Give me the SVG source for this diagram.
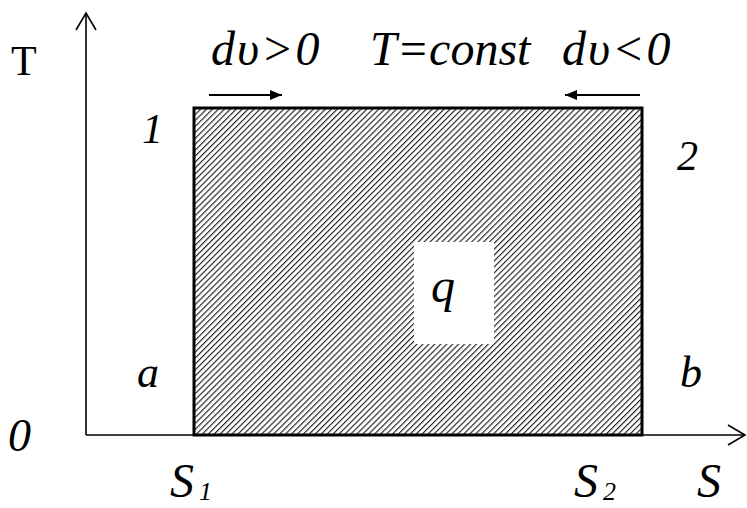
<svg xmlns="http://www.w3.org/2000/svg" width="747" height="508" viewBox="0 0 747 508">
  <style>
    .axis { stroke: #000; stroke-width: 1.6; fill: none; }
    .arr { stroke: #000; stroke-width: 2; fill: none; }
    text { font-family: "Liberation Serif", "Times New Roman", serif; fill: #000; }
    .it { font-style: italic; }
  </style>
  <defs>
    <pattern id="hatch" width="4.2" height="4.2" patternUnits="userSpaceOnUse" patternTransform="rotate(45)">
      <rect width="4.2" height="4.2" fill="#fff"/>
      <line x1="0" y1="0" x2="0" y2="4.2" stroke="#222" stroke-width="2.3"/>
    </pattern>
    <marker id="head" markerWidth="12" markerHeight="10" refX="12" refY="5" orient="auto" markerUnits="userSpaceOnUse">
      <path d="M0,0 L12,5 L0,10 Z" fill="#000"/>
    </marker>
  </defs>

  <g id="region">
    <rect x="194" y="108" width="448" height="327" fill="url(#hatch)" stroke="#000" stroke-width="3"/>
    <rect x="414" y="242" width="80" height="102" fill="#fff"/>
    <text class="it" x="431" y="302" font-size="48">q</text>
  </g>

  <g id="connectors">
    <line class="axis" x1="86" y1="435" x2="86" y2="13"/>
    <polyline class="axis" points="76,30 86,13 96,30"/>
    <line class="axis" x1="86" y1="435" x2="745" y2="435"/>
    <polyline class="axis" points="728,425 745,435 728,445"/>
    <line class="arr" x1="209" y1="95" x2="282" y2="95" marker-end="url(#head)"/>
    <line class="arr" x1="640" y1="95" x2="565" y2="95" marker-end="url(#head)"/>
  </g>

  <g id="labels">
    <text x="11" y="75" font-size="42">T</text>
    <text class="it" x="211" y="65" font-size="48" letter-spacing="2">dυ&gt;0</text>
    <text class="it" x="370" y="65" font-size="48">T=const</text>
    <text class="it" x="562" y="65" font-size="48" letter-spacing="2">dυ&lt;0</text>
    <text class="it" x="142" y="143" font-size="42">1</text>
    <text class="it" x="677" y="170" font-size="42">2</text>
    <text class="it" x="137" y="387" font-size="44">a</text>
    <text class="it" x="680" y="387" font-size="44">b</text>
    <text class="it" x="8" y="451" font-size="46">0</text>
    <text class="it" x="170" y="497" font-size="48">S</text>
    <text class="it" x="199" y="500" font-size="26">1</text>
    <text class="it" x="574" y="497" font-size="48">S</text>
    <text class="it" x="603" y="500" font-size="26">2</text>
    <text class="it" x="697" y="497" font-size="48">S</text>
  </g>
</svg>
